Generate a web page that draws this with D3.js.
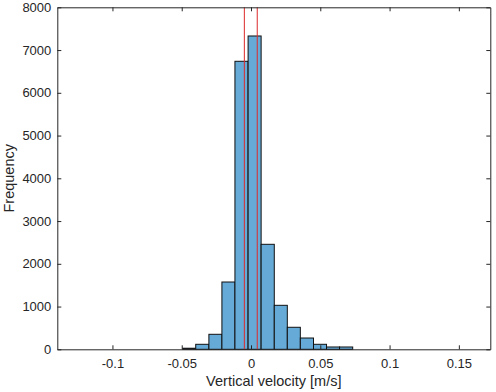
<!DOCTYPE html>
<html>
<head>
<meta charset="utf-8">
<script src="https://cdn.jsdelivr.net/npm/d3@7"></script>
<style>
  html, body { margin: 0; padding: 0; background: #fff; }
  text { font-family: "Liberation Sans", Arial, sans-serif; fill: #262626; }
</style>
</head>
<body>
<div id="my_hist"></div>
<script>
// bin edges (m/s) and counts
const binEdges = [-0.0493, -0.0399, -0.0304, -0.0210, -0.0116, -0.0021, 0.0073,
                  0.0168, 0.0262, 0.0356, 0.0451, 0.0545, 0.0639, 0.0734];
const counts = [25, 117, 351, 1574, 6737, 7329, 2456, 1029, 515, 264, 117, 54, 54];

// red marker lines
const markers = [-0.0048, 0.0045];

// axis ticks
const xTicks = [-0.1, -0.05, 0, 0.05, 0.1, 0.15];
const xTickLabels = ["-0.1", "-0.05", "0", "0.05", "0.1", "0.15"];
const yTicks = [0, 1000, 2000, 3000, 4000, 5000, 6000, 7000, 8000];

const margin = { top: 7.3, right: 5.7, bottom: 42.7, left: 57.3 },
  width = 496 - margin.left - margin.right,
  height = 392 - margin.top - margin.bottom;

const svg = d3.select("#my_hist")
  .append("svg")
  .attr("width", 496)
  .attr("height", 392)
  .append("g")
  .attr("transform", `translate(${margin.left}, ${margin.top})`);

const x = d3.scaleLinear()
  .domain([-0.1398, 0.1727])
  .range([0, width]);

const y = d3.scaleLinear()
  .domain([0, 8000])
  .range([height, 0]);

const bins = counts.map((c, i) => ({ x0: binEdges[i], x1: binEdges[i + 1], n: c }));

// bars
svg.selectAll("rect.bar")
  .data(bins)
  .join("rect")
  .attr("class", "bar")
  .attr("x", d => x(d.x0))
  .attr("width", d => x(d.x1) - x(d.x0))
  .attr("y", d => y(d.n))
  .attr("height", d => y(0) - y(d.n))
  .attr("fill", "#66aad7")
  .attr("stroke", "#111")
  .attr("stroke-width", 1);

// red lines
svg.selectAll("line.marker")
  .data(markers)
  .join("line")
  .attr("class", "marker")
  .attr("x1", d => x(d)).attr("x2", d => x(d))
  .attr("y1", 0).attr("y2", height)
  .attr("stroke", "#dd2a2a")
  .attr("stroke-width", 1);

// axes, ticks pointing inward like matlab
const styleAxis = g => {
  g.select(".domain").attr("stroke", "#262626");
  g.selectAll(".tick line").attr("stroke", "#262626");
  g.selectAll(".tick text").style("font-size", "13px").attr("fill", "#262626");
};

svg.append("g")
  .attr("transform", `translate(0, ${height})`)
  .call(d3.axisBottom(x).tickValues(xTicks)
    .tickFormat((d, i) => xTickLabels[i])
    .tickSizeInner(-4).tickSizeOuter(0).tickPadding(9))
  .call(styleAxis);

svg.append("g")
  .call(d3.axisTop(x).tickValues(xTicks).tickFormat("")
    .tickSizeInner(-4).tickSizeOuter(0))
  .call(styleAxis);

svg.append("g")
  .call(d3.axisLeft(y).tickValues(yTicks).tickFormat(d3.format("d"))
    .tickSizeInner(-4).tickSizeOuter(0).tickPadding(6))
  .call(styleAxis);

svg.append("g")
  .attr("transform", `translate(${width}, 0)`)
  .call(d3.axisRight(y).tickValues(yTicks).tickFormat("")
    .tickSizeInner(-4).tickSizeOuter(0))
  .call(styleAxis);

// axis labels
svg.append("text")
  .attr("text-anchor", "middle")
  .attr("x", width / 2)
  .attr("y", height + 37)
  .style("font-size", "14.5px")
  .text("Vertical velocity [m/s]");

svg.append("text")
  .attr("text-anchor", "middle")
  .attr("transform", `translate(${13.5 - margin.left}, ${height / 2}) rotate(-90)`)
  .style("font-size", "14.5px")
  .text("Frequency");
</script>
</body>
</html>
